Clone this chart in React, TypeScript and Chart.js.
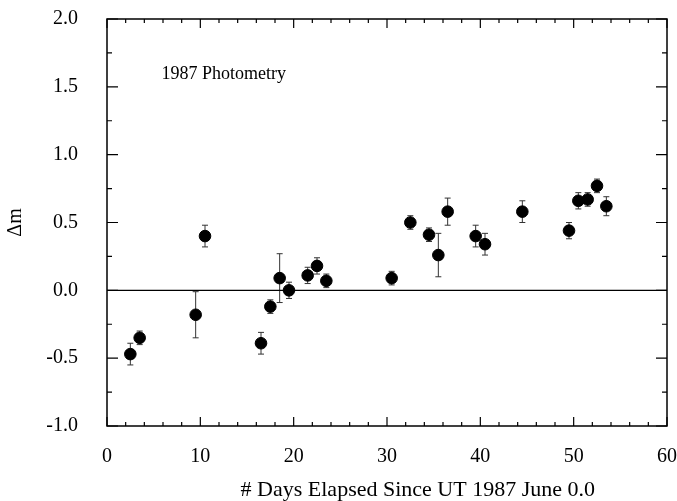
import React, { useEffect, useRef } from "react";
import { Chart, registerables } from "chart.js";

Chart.register(...registerables);

const days = [2.5, 3.5, 9.5, 10.5, 16.5, 17.5, 18.5, 19.5, 21.5, 22.5, 23.5, 30.5, 32.5, 34.5, 35.5, 36.5, 39.5, 40.5, 44.5, 49.5, 50.5, 51.5, 52.5, 53.5];
const deltaM = [-0.47, -0.35, -0.18, 0.40, -0.39, -0.12, 0.09, 0.0, 0.11, 0.18, 0.07, 0.09, 0.50, 0.41, 0.26, 0.58, 0.40, 0.34, 0.58, 0.44, 0.66, 0.67, 0.77, 0.62];
const errors = [0.08, 0.05, 0.17, 0.08, 0.08, 0.05, 0.18, 0.06, 0.06, 0.06, 0.05, 0.05, 0.05, 0.05, 0.16, 0.10, 0.08, 0.08, 0.08, 0.06, 0.06, 0.05, 0.05, 0.07];
const xTicks = [0, 10, 20, 30, 40, 50, 60];
const yTicks = [-1.0, -0.5, 0.0, 0.5, 1.0, 1.5, 2.0];
const annotation = "1987 Photometry";
const xTitle = "# Days Elapsed Since UT 1987 June 0.0";
const yTitle = "\u0394m";

const FONT = "'Liberation Serif', 'Times New Roman', serif";

const framePlugin = {
  id: "frameTicks",
  beforeDatasetsDraw(chart: any) {
    const { ctx, scales } = chart;
    const xs = scales.x;
    const ys = scales.y;
    ctx.save();
    ctx.strokeStyle = "#333";
    ctx.lineWidth = 1;
    days.forEach((d, i) => {
      const px = xs.getPixelForValue(d);
      const top = ys.getPixelForValue(deltaM[i] + errors[i]);
      const bot = ys.getPixelForValue(deltaM[i] - errors[i]);
      ctx.beginPath();
      ctx.moveTo(px, top);
      ctx.lineTo(px, bot);
      ctx.moveTo(px - 3, top);
      ctx.lineTo(px + 3, top);
      ctx.moveTo(px - 3, bot);
      ctx.lineTo(px + 3, bot);
      ctx.stroke();
    });
    ctx.restore();
  },
  afterDatasetsDraw(chart: any) {
    const { ctx, chartArea, scales } = chart;
    const { left, right, top, bottom } = chartArea;
    const xs = scales.x;
    const ys = scales.y;
    ctx.save();
    ctx.strokeStyle = "#000";
    ctx.lineWidth = 1.5;
    ctx.strokeRect(left, top, right - left, bottom - top);
    ctx.lineWidth = 1.2;
    ctx.beginPath();
    for (let v = 0; v <= 60; v += 2) {
      const px = xs.getPixelForValue(v);
      const len = v % 10 === 0 ? 9 : 4;
      ctx.moveTo(px, bottom);
      ctx.lineTo(px, bottom - len);
      ctx.moveTo(px, top);
      ctx.lineTo(px, top + len);
    }
    for (let k = 0; k <= 12; k++) {
      const v = -1 + k * 0.25;
      const py = ys.getPixelForValue(v);
      const len = k % 2 === 0 ? 11 : 5;
      ctx.moveTo(left, py);
      ctx.lineTo(left + len, py);
      ctx.moveTo(right, py);
      ctx.lineTo(right - len, py);
    }
    ctx.stroke();
    ctx.fillStyle = "#000";
    ctx.font = `18px ${FONT}`;
    ctx.textAlign = "left";
    ctx.textBaseline = "middle";
    ctx.fillText(annotation, xs.getPixelForValue(5.85), ys.getPixelForValue(1.59));
    // x-axis title (placed as in the reference, slightly right of centre)
    ctx.font = `22px ${FONT}`;
    ctx.textAlign = "center";
    ctx.textBaseline = "alphabetic";
    ctx.fillText(xTitle, xs.getPixelForValue(33.3), 496);
    ctx.restore();
  },
};

export default function App() {
  const ref = useRef<HTMLCanvasElement>(null);
  useEffect(() => {
    const points = days.map((d, i) => ({ x: d, y: deltaM[i] }));
    const chart = new Chart(ref.current as HTMLCanvasElement, {
      type: "scatter",
      data: {
        datasets: [
          {
            type: "line",
            data: [
              { x: 0, y: 0 },
              { x: 60, y: 0 },
            ],
            borderColor: "#000",
            borderWidth: 1.2,
            pointRadius: 0,
            showLine: true,
          } as any,
          {
            data: points,
            backgroundColor: "#000",
            borderColor: "#000",
            pointRadius: 5.8,
            pointHoverRadius: 5.8,
          },
        ],
      },
      options: {
        animation: false,
        responsive: true,
        maintainAspectRatio: false,
        layout: { padding: { top: 19, right: 9, left: 0, bottom: 0 } },
        plugins: { legend: { display: false }, tooltip: { enabled: false } },
        scales: {
          x: {
            type: "linear",
            min: 0,
            max: 60,
            afterBuildTicks: (s: any) => {
              s.ticks = xTicks.map((v) => ({ value: v }));
            },
            afterFit: (s: any) => {
              s.height = 75;
            },
            grid: {
              display: true,
              drawOnChartArea: false,
              drawTicks: true,
              tickLength: 19,
              tickColor: "rgba(0,0,0,0)",
            },
            border: { display: false },
            ticks: {
              color: "#000",
              font: { family: FONT, size: 20 },
              padding: 0,
              maxRotation: 0,
            },
            title: { display: false, text: xTitle },
          },
          y: {
            type: "linear",
            min: -1,
            max: 2,
            afterBuildTicks: (s: any) => {
              s.ticks = yTicks.map((v) => ({ value: v }));
            },
            afterFit: (s: any) => {
              s.width = 107;
            },
            grid: {
              display: true,
              drawOnChartArea: false,
              drawTicks: true,
              tickLength: 29,
              tickColor: "rgba(0,0,0,0)",
            },
            border: { display: false },
            ticks: {
              color: "#000",
              font: { family: FONT, size: 20 },
              padding: 0,
              callback: (v: any) => Number(v).toFixed(1),
            },
            title: {
              display: true,
              text: yTitle,
              color: "#000",
              font: { family: FONT, size: 20 },
              padding: { top: 4, bottom: 0 },
            },
          },
        },
      },
      plugins: [framePlugin],
    });
    return () => chart.destroy();
  }, []);
  return (
    <div style={{ position: "absolute", left: 0, top: 0, width: 677, height: 501, background: "#fff" }}>
      <canvas ref={ref} />
    </div>
  );
}
